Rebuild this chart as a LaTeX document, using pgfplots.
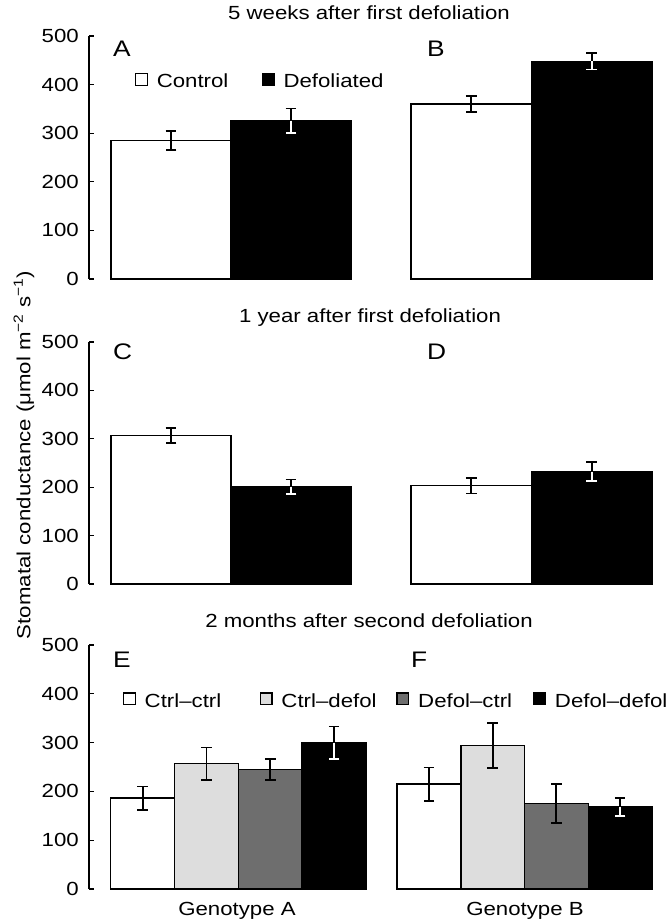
\documentclass[border=0pt]{standalone}
\usepackage{fontspec}
\setmainfont{Liberation Sans}[FakeStretch=1.17]
\usepackage{pgfplots}
\pgfplotsset{compat=1.18}

\newcommand\tf{\fontsize{19bp}{23bp}\selectfont}
\newcommand\pf{\fontsize{22.5bp}{27bp}\selectfont}

\definecolor{lgray}{RGB}{221,221,221}
\definecolor{dgray}{RGB}{110,110,110}

\pgfplotsset{
  panel/.style={scale only axis, ybar, bar shift=0pt, bar width=1,
    ymin=0, ymax=500, anchor=south west, clip=false,
    every axis plot/.append style={draw=black, line width=1.5bp}},
  leftpanel/.style={panel, axis y line*=left, hide x axis,
    ytick={0,100,200,300,400,500}, tick align=inside, major tick length=5bp,
    ytick style={line width=1.1bp, black}, axis line style={line width=1.1bp},
    yticklabel style={font=\tf, inner sep=0pt}, yticklabel shift=10bp,
    /pgf/number format/assume math mode=true},
  rightpanel/.style={panel, axis lines=none},
  eb/.style 2 args={error bars/.cd, y dir=#1, y explicit,
    error bar style={line width=1.8bp, draw=#2},
    error mark options={rotate=90, mark size=5.3bp, line width=1.8bp, draw=#2}},
  leg/.style={legend columns=-1,
    legend style={draw=none, fill=none, inner sep=0pt, outer sep=0pt, font=\tf,
      nodes={inner sep=0pt}, column sep=0pt, row sep=0pt, at={#1}, anchor=west},
    legend image code/.code={\draw[##1, line width=1.3bp] (0.65bp,-3.75bp) rectangle (12.35bp,7.95bp); \path (21bp,0bp);}},
}

\begin{document}
\begin{tikzpicture}
\useasboundingbox (0bp,0bp) rectangle (667bp,921bp);

% row 1: 5 weeks
\begin{axis}[leftpanel, at={(89bp,642bp)}, width=262bp, height=243bp,
  xmin=-0.6833, xmax=1.5, leg={(axis description cs:0.1756,0.815)}]
\addplot[fill=white, eb={both}{black}] coordinates {(0,285) +- (0,19)};
\addplot[fill=black, eb={plus}{black}] coordinates {(1,326) +- (0,25)};
\addplot[fill=black, forget plot, eb={minus}{white}] coordinates {(1,326) +- (0,25)};
\legend{\makebox[105bp][l]{Control}, Defoliated}
\end{axis}

\begin{axis}[rightpanel, at={(411bp,642bp)}, width=241bp, height=243bp,
  xmin=-0.5, xmax=1.5]
\addplot[fill=white, eb={both}{black}] coordinates {(0,360) +- (0,16)};
\addplot[fill=black, eb={plus}{black}] coordinates {(1,448) +- (0,17)};
\addplot[fill=black, eb={minus}{white}] coordinates {(1,448) +- (0,17)};
\end{axis}

% row 2: 1 year
\begin{axis}[leftpanel, at={(89bp,337bp)}, width=262bp, height=242bp,
  xmin=-0.6833, xmax=1.5]
\addplot[fill=white, eb={both}{black}] coordinates {(0,307) +- (0,15)};
\addplot[fill=black, eb={plus}{black}] coordinates {(1,201) +- (0,15)};
\addplot[fill=black, eb={minus}{white}] coordinates {(1,201) +- (0,15)};
\end{axis}

\begin{axis}[rightpanel, at={(411bp,337bp)}, width=241bp, height=242bp,
  xmin=-0.5, xmax=1.5]
\addplot[fill=white, eb={both}{black}] coordinates {(0,203) +- (0,16)};
\addplot[fill=black, eb={plus}{black}] coordinates {(1,232) +- (0,20)};
\addplot[fill=black, eb={minus}{white}] coordinates {(1,232) +- (0,20)};
\end{axis}

% row 3: 2 months after second defoliation
\begin{axis}[leftpanel, at={(89bp,32bp)}, width=277bp, height=244bp,
  xmin=-0.84, xmax=3.5, leg={(axis description cs:0.1227,0.7725)}]
\addplot[fill=white, eb={both}{black}] coordinates {(0,186) +- (0,24)};
\addplot[fill=lgray, eb={both}{black}] coordinates {(1,257) +- (0,33)};
\addplot[fill=dgray, eb={both}{black}] coordinates {(2,245) +- (0,22)};
\addplot[fill=black, eb={plus}{black}] coordinates {(3,300) +- (0,33)};
\addplot[fill=black, forget plot, eb={minus}{white}] coordinates {(3,300) +- (0,33)};
\legend{\makebox[115bp][l]{Ctrl–ctrl}, \makebox[115bp][l]{Ctrl–defol},
  \makebox[115bp][l]{Defol–ctrl}, Defol–defol}
\end{axis}

\begin{axis}[rightpanel, at={(397bp,32bp)}, width=255bp, height=244bp,
  xmin=-0.5, xmax=3.5]
\addplot[fill=white, eb={both}{black}] coordinates {(0,215) +- (0,34)};
\addplot[fill=lgray, eb={both}{black}] coordinates {(1,294) +- (0,46)};
\addplot[fill=dgray, eb={both}{black}] coordinates {(2,175) +- (0,40)};
\addplot[fill=black, eb={plus}{black}] coordinates {(3,168) +- (0,18)};
\addplot[fill=black, eb={minus}{white}] coordinates {(3,168) +- (0,18)};
\end{axis}

% titles, panel letters, labels
\node[anchor=base, font=\tf] at (369bp,901bp) {5 weeks after first defoliation};
\node[anchor=base, font=\tf] at (370bp,598bp) {1 year after first defoliation};
\node[anchor=base, font=\tf] at (369bp,293bp) {2 months after second defoliation};
\node[anchor=base west, font=\pf, inner sep=0pt] at (113bp,864bp) {A};
\node[anchor=base west, font=\pf, inner sep=0pt] at (427bp,864bp) {B};
\node[anchor=base west, font=\pf, inner sep=0pt] at (113bp,561bp) {C};
\node[anchor=base west, font=\pf, inner sep=0pt] at (427bp,561bp) {D};
\node[anchor=base west, font=\pf, inner sep=0pt] at (113bp,253bp) {E};
\node[anchor=base west, font=\pf, inner sep=0pt] at (411bp,253bp) {F};
\node[anchor=base, font=\tf] at (237bp,6bp) {Genotype A};
\node[anchor=base, font=\tf] at (525bp,6bp) {Genotype B};
\node[rotate=90, font=\tf] at (24bp,466bp)
  {Stomatal conductance (μmol m\textsuperscript{−2} s\textsuperscript{−1})};
\end{tikzpicture}
\end{document}
